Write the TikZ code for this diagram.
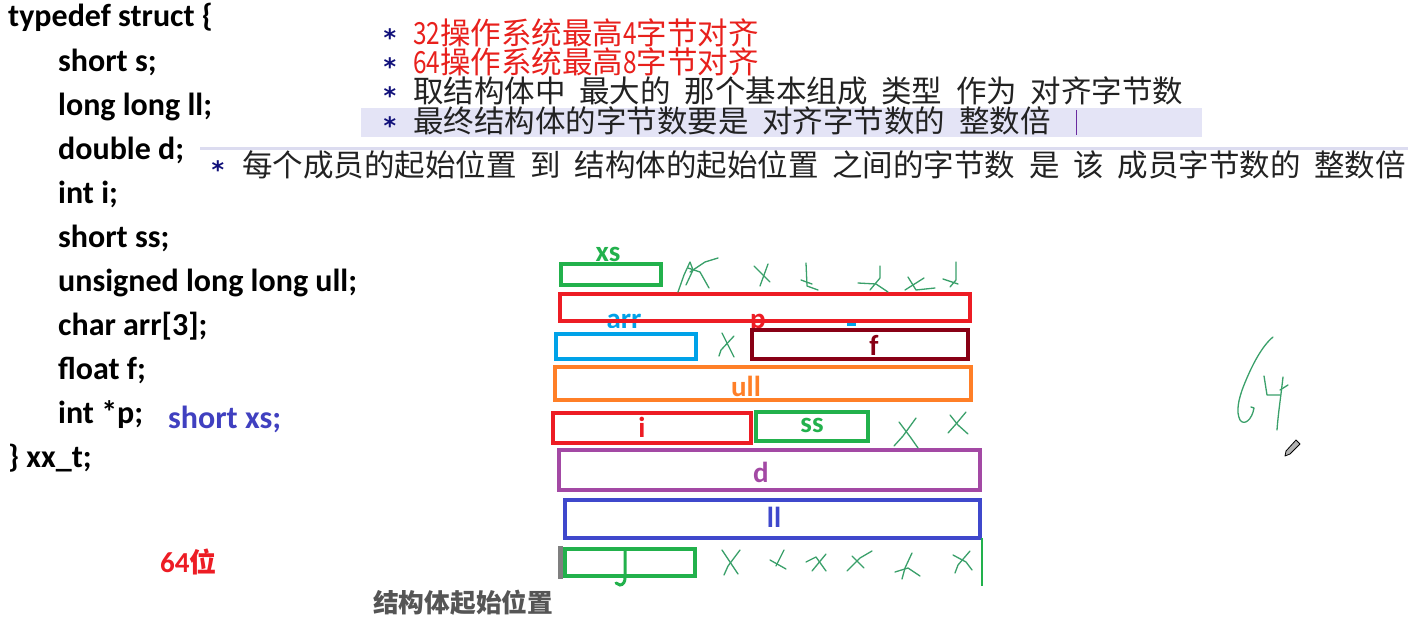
\documentclass[tikz,border=0pt]{standalone}
\usepackage{graphicx}
\usepackage{fontspec}
\setmainfont{Carlito}
\newfontfamily\cjk{Noto Sans CJK SC}
\newfontfamily\djv{DejaVu Sans}
\definecolor{navy}{HTML}{10107A}
\definecolor{zhred}{HTML}{E8201C}
\definecolor{zhblack}{HTML}{222222}
\definecolor{hilite}{HTML}{E4E4F6}
\definecolor{sepline}{HTML}{DCDCF0}
\definecolor{cursor}{HTML}{6A2AA0}
\definecolor{bgreen}{HTML}{22B14C}
\definecolor{bred}{HTML}{ED1C24}
\definecolor{bblue}{HTML}{00A2E8}
\definecolor{bdark}{HTML}{880015}
\definecolor{borange}{HTML}{FF7F27}
\definecolor{bpurple}{HTML}{A349A4}
\definecolor{bindigo}{HTML}{3F48CC}
\definecolor{handg}{HTML}{3AA06A}
\definecolor{xsblue}{HTML}{4040C0}
\definecolor{graytxt}{HTML}{555555}
\definecolor{graybar}{HTML}{7F7F7F}
\newcommand\hs{\hspace{0.45em}}
\newcommand\dg[1]{\scalebox{0.8}[1]{#1}}
\begin{document}
\begin{tikzpicture}[x=1pt,y=-1pt,
  code/.style={anchor=base west, inner sep=0, font=\fontsize{32}{32}\selectfont\bfseries},
  zh/.style={anchor=west, inner sep=0, font=\cjk\fontsize{30.5}{30.5}\selectfont},
  star/.style={inner sep=0, anchor=base, text=navy, font=\djv\fontsize{24}{24}\selectfont\bfseries},
  mbox/.style={line width=4pt},
  lbl/.style={inner sep=0, font=\fontsize{29}{29}\selectfont\bfseries},
  hand/.style={draw=handg, line width=1.3pt, line cap=round, line join=round}]
\useasboundingbox (0,0) rectangle (1408,621);
\fill[white] (0,0) rectangle (1408,621);

% ---- code on the left ----
\node[code] (l1) at (8,27) {typedef struct \{};
\node[code] (l2) at (58,71) {short s;};
\node[code] (l3) at (58,115) {long long ll;};
\node[code] (l4) at (58,159) {double d;};
\node[code] (l5) at (58,203) {int i;};
\node[code] (l6) at (58,247) {short ss;};
\node[code] (l7) at (58,291) {unsigned long long ull;};
\node[code] (l8) at (58,335) {char arr[3];};
\node[code] (l9) at (58,379) {float f;};
\node[code] (l10) at (58,423) {int *p;};
\node[code, text=xsblue] (xsdecl) at (168,428) {short xs;};
\node[code] (l11) at (8,467) {\} xx\_t;};
\node[code, text=bred, font=\fontsize{29}{29}\selectfont\bfseries] (bits) at (160,572) {64{\cjk\fontsize{27}{27}\selectfont\bfseries 位}};
\node[inner sep=0, text=graytxt, font=\cjk\fontsize{25.7}{25.7}\selectfont\bfseries, anchor=west] (start) at (373,603) {结构体起始位置};

% ---- notes at the top ----
\fill[hilite] (361,108) rectangle (1202,137);
\draw[sepline, line width=3pt] (200,148) -- (1408,148);
\draw[cursor, line width=1pt] (1076,110) -- (1076,135);
\node[star] (s1) at (390,46) {*};
\node[star] (s2) at (390,75) {*};
\node[star] (s3) at (390,104) {*};
\node[star] (s4) at (390,134) {*};
\node[star] (s5) at (218,178) {*};
\node[zh, text=zhred] (n1) at (413,33) {\dg{32}操作系统最高\dg{4}字节对齐};
\node[zh, text=zhred] (n2) at (413,62) {\dg{64}操作系统最高\dg{8}字节对齐};
\node[zh, text=zhblack] (n3) at (413,91) {取结构体中\hs 最大的\hs 那个基本组成\hs 类型\hs 作为\hs 对齐字节数};
\node[zh, text=zhblack] (n4) at (413,121) {最终结构体的字节数要是\hs 对齐字节数的\hs 整数倍};
\node[zh, text=zhblack] (n5) at (242,165) {每个成员的起始位置\hs 到\hs 结构体的起始位置\hs 之间的字节数\hs 是\hs 该\hs 成员字节数的\hs 整数倍};

% ---- memory boxes ----
\draw[mbox, bgreen] (561,264) rectangle (661,285);
\node[lbl, text=bgreen] (xsl) at (608,254) {xs};

\begin{scope}
\clip (590,295) rectangle (870,327);
\node[lbl, text=bblue, anchor=base] (arrl) at (624,328) {arr};
\node[lbl, text=bred, anchor=base] (pl) at (758,328) {p};
\end{scope}
\fill[bblue] (847,320) rectangle (856,326);
\draw[mbox, bred] (560,294) rectangle (970,321);

\draw[mbox, bblue] (556,334) rectangle (696,359);
\draw[mbox, bdark] (752,330) rectangle (968,359);
\node[lbl, text=bdark] (fl) at (874,345) {f};

\draw[mbox, borange] (555,367) rectangle (971,400);
\node[lbl, text=borange] (ulll) at (746,386) {ull};

\draw[mbox, bred] (553,413) rectangle (751,443);
\node[lbl, text=bred] (il) at (642,427) {i};
\draw[mbox, bgreen] (756,412) rectangle (868,441);
\node[lbl, text=bgreen] (ssl) at (812,425) {ss};

\draw[mbox, bpurple] (559,450) rectangle (980,490);
\node[lbl, text=bpurple] (dl) at (761,472) {d};

\draw[mbox, bindigo] (565,500) rectangle (980,538);
\node[lbl, text=bindigo] (lll) at (774,517) {ll};

\fill[graybar] (558,546) rectangle (563,579);
\draw[mbox, bgreen] (565,549) rectangle (695,576);
\draw[bgreen, line width=3pt, line cap=round] (625,550) -- (625,578) to[out=-90,in=0] (620,585) -- (616,583);
\draw[bgreen, line width=1.5pt] (982,538) -- (982,586);

% ---- handwritten marks ----
% top row
\draw[hand] (678,292) -- (684,275) -- (690,262) -- (693,270) -- (686,285);
\draw[hand] (688,268) -- (700,272) -- (709,288);
\draw[hand] (690,272) -- (705,262) -- (718,258);
\draw[hand] (754,266) -- (770,282);
\draw[hand] (768,264) -- (760,286);
\draw[hand] (806,263) -- (807,286) -- (818,290);
\draw[hand] (801,280) -- (812,284);
\draw[hand] (858,283) -- (876,284) -- (888,292);
\draw[hand] (880,266) -- (880,278) -- (870,290);
\draw[hand] (905,290) -- (924,278);
\draw[hand] (908,277) -- (916,290) -- (935,288);
\draw[hand] (956,262) -- (956,280) -- (950,287);
\draw[hand] (943,279) -- (958,284);
% middle
\draw[hand] (722,333) -- (734,357);
\draw[hand] (734,336) -- (721,350) -- (719,356);
\draw[hand] (916,418) -- (903,436) -- (894,446);
\draw[hand] (899,422) -- (911,438) -- (918,448);
\draw[hand] (966,412) -- (956,424) -- (948,433);
\draw[hand] (950,415) -- (958,425) -- (968,434);
% bottom row
\draw[hand] (722,550) -- (738,574);
\draw[hand] (740,550) -- (728,566) -- (724,575);
\draw[hand] (784,550) -- (776,566);
\draw[hand] (770,560) -- (786,569);
\draw[hand] (806,562) -- (816,557) -- (826,571);
\draw[hand] (826,554) -- (812,571);
\draw[hand] (847,571) -- (860,558) -- (872,551);
\draw[hand] (852,556) -- (864,568);
\draw[hand] (912,553) -- (905,568) -- (902,579);
\draw[hand] (895,572) -- (908,568) -- (920,576);
\draw[hand] (970,551) -- (958,565) -- (955,573);
\draw[hand] (953,555) -- (966,562) -- (972,570);
% handwritten 64
\draw[hand] (1273,337) .. controls (1262,346) and (1252,365) .. (1244,385)
  .. controls (1238,400) and (1236,412) .. (1240,420)
  .. controls (1244,426) and (1252,420) .. (1254,408) -- (1251,407);
\draw[hand] (1264,376) -- (1267,395) -- (1280,395);
\draw[hand] (1283,377) .. controls (1281,395) and (1278,415) .. (1277,430);
\draw[hand] (1280,390) -- (1288,385);
% pencil cursor
\filldraw[draw=black, fill=gray!60, line width=0.8pt, line join=round]
  (1296,440) -- (1300,444) -- (1290,454) -- (1285,456) -- (1286,451) -- cycle;
\end{tikzpicture}
\end{document}
